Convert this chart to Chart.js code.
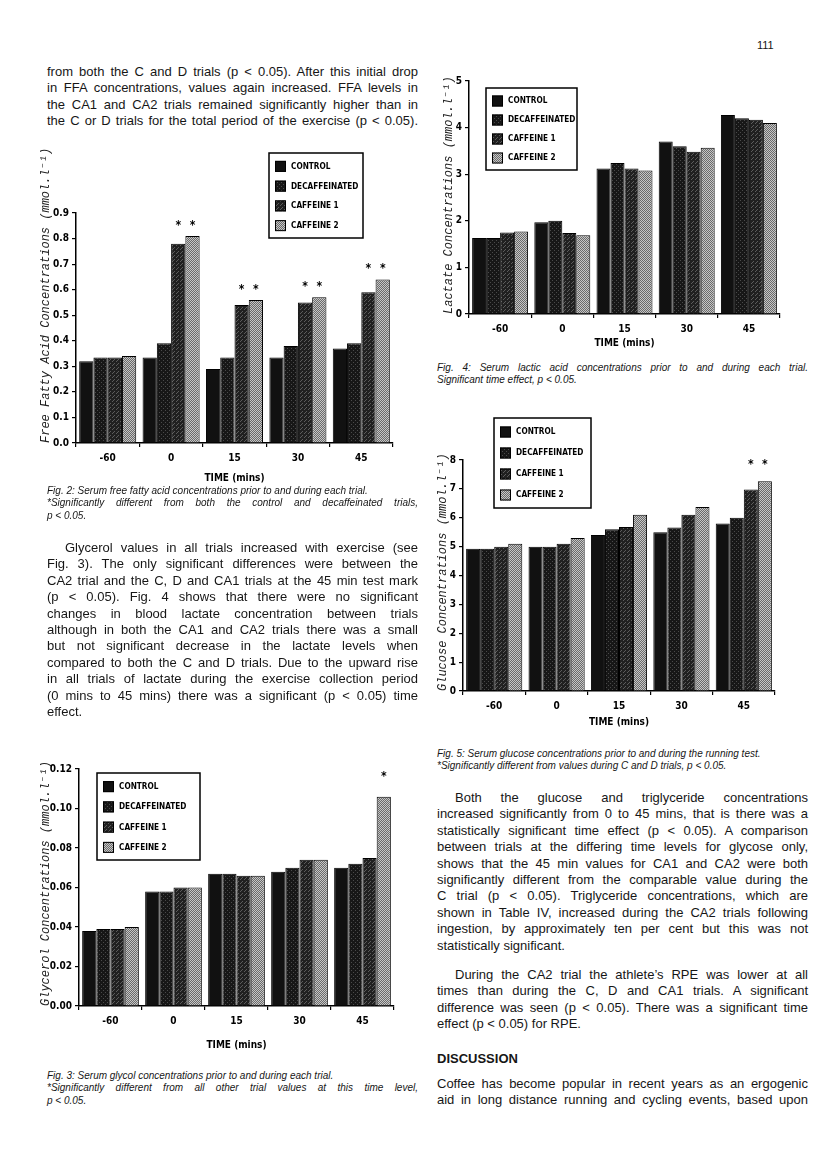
<!DOCTYPE html>
<html>
<head>
<meta charset="utf-8">
<script src="https://cdn.jsdelivr.net/npm/chart.js@4.4.1/dist/chart.umd.min.js"></script>
<style>
body { margin: 0; background: #fff; }
#page { position: relative; width: 816px; height: 1171px; overflow: hidden; font-family: "Liberation Sans", Arial, sans-serif; color: #161616; }
.txt { position: absolute; width: 371px; font-size: 13px; line-height: 16.4px; }
.txt div { white-space: nowrap; text-align: justify; text-align-last: justify; }
.txt div.end { text-align-last: left; }
.txt div.ind { text-indent: 18px; }
.cap { position: absolute; width: 371px; font-size: 10px; line-height: 12.4px; font-style: italic; }
.cap div { white-space: nowrap; }
.cap div.j { text-align: justify; text-align-last: justify; }
.plot { position: absolute; }
</style>
</head>
<body>
<div id="page">
  <div style="position:absolute;left:757px;top:39px;font-size:11px;">111</div>

  <div class="txt" style="left:47px;top:64px;">
    <div>from both the C and D trials (p &lt; 0.05). After this initial drop</div>
    <div>in FFA concentrations, values again increased. FFA levels in</div>
    <div>the CA1 and CA2 trials remained significantly higher than in</div>
    <div>the C or D trials for the total period of the exercise (p &lt; 0.05).</div>
  </div>

  <div class="plot" style="left:30px;top:135px;"><canvas id="ffaChart" width="385" height="355"></canvas></div>
  <div class="cap" style="left:47px;top:485px;">
    <div>Fig. 2: Serum free fatty acid concentrations prior to and during each trial.</div>
    <div class="j">*Significantly different from both the control and decaffeinated trials,</div>
    <div>p &lt; 0.05.</div>
  </div>

  <div class="txt" style="left:47px;top:540px;">
    <div class="ind">Glycerol values in all trials increased with exercise (see</div>
    <div>Fig. 3). The only significant differences were between the</div>
    <div>CA2 trial and the C, D and CA1 trials at the 45 min test mark</div>
    <div>(p &lt; 0.05). Fig. 4 shows that there were no significant</div>
    <div>changes in blood lactate concentration between trials</div>
    <div>although in both the CA1 and CA2 trials there was a small</div>
    <div>but not significant decrease in the lactate levels when</div>
    <div>compared to both the C and D trials. Due to the upward rise</div>
    <div>in all trials of lactate during the exercise collection period</div>
    <div>(0 mins to 45 mins) there was a significant (p &lt; 0.05) time</div>
    <div class="end">effect.</div>
  </div>

  <div class="plot" style="left:30px;top:745px;"><canvas id="glycerolChart" width="385" height="310"></canvas></div>
  <div class="cap" style="left:47px;top:1070px;">
    <div>Fig. 3: Serum glycol concentrations prior to and during each trial.</div>
    <div class="j">*Significantly different from all other trial values at this time level,</div>
    <div>p &lt; 0.05.</div>
  </div>

  <div class="plot" style="left:425px;top:65px;"><canvas id="lactateChart" width="380" height="290"></canvas></div>
  <div class="cap" style="left:437px;top:362px;">
    <div class="j">Fig. 4: Serum lactic acid concentrations prior to and during each trial.</div>
    <div>Significant time effect, p &lt; 0.05.</div>
  </div>

  <div class="plot" style="left:425px;top:410px;"><canvas id="glucoseChart" width="380" height="320"></canvas></div>
  <div class="cap" style="left:437px;top:748px;">
    <div>Fig. 5: Serum glucose concentrations prior to and during the running test.</div>
    <div>*Significantly different from values during C and D trials, p &lt; 0.05.</div>
  </div>

  <div class="txt" style="left:437px;top:790px;">
    <div class="ind">Both the glucose and triglyceride concentrations</div>
    <div>increased significantly from 0 to 45 mins, that is there was a</div>
    <div>statistically significant time effect (p &lt; 0.05). A comparison</div>
    <div>between trials at the differing time levels for glycose only,</div>
    <div>shows that the 45 min values for CA1 and CA2 were both</div>
    <div>significantly different from the comparable value during the</div>
    <div>C trial (p &lt; 0.05). Triglyceride concentrations, which are</div>
    <div>shown in Table IV, increased during the CA2 trials following</div>
    <div>ingestion, by approximately ten per cent but this was not</div>
    <div class="end">statistically significant.</div>
  </div>

  <div class="txt" style="left:437px;top:967px;">
    <div class="ind">During the CA2 trial the athlete’s RPE was lower at all</div>
    <div>times than during the C, D and CA1 trials. A significant</div>
    <div>difference was seen (p &lt; 0.05). There was a significant time</div>
    <div class="end">effect (p &lt; 0.05) for RPE.</div>
  </div>

  <div style="position:absolute;left:437px;top:1051px;font-size:13px;font-weight:bold;">DISCUSSION</div>

  <div class="txt" style="left:437px;top:1076px;">
    <div>Coffee has become popular in recent years as an ergogenic</div>
    <div>aid in long distance running and cycling events, based upon</div>
  </div>
</div>

<script>
const timeLabels = ['-60', '0', '15', '30', '45'];
const trialNames = ['CONTROL', 'DECAFFEINATED', 'CAFFEINE 1', 'CAFFEINE 2'];

// Fig 2: free fatty acids
const ffaControl = [0.32, 0.335, 0.29, 0.335, 0.37];
const ffaDecaf = [0.335, 0.39, 0.335, 0.38, 0.39];
const ffaCaf1 = [0.335, 0.78, 0.54, 0.55, 0.59];
const ffaCaf2 = [0.34, 0.81, 0.56, 0.57, 0.64];
const ffaSigCaf1 = [0, 1, 1, 1, 1];
const ffaSigCaf2 = [0, 1, 1, 1, 1];
const ffaTicks = [0, 0.1, 0.2, 0.3, 0.4, 0.5, 0.6, 0.7, 0.8, 0.9];

// Fig 3: glycerol
const glyControl = [0.038, 0.058, 0.067, 0.068, 0.070];
const glyDecaf = [0.039, 0.058, 0.067, 0.070, 0.072];
const glyCaf1 = [0.039, 0.060, 0.066, 0.074, 0.075];
const glyCaf2 = [0.040, 0.060, 0.066, 0.074, 0.106];
const glySigCaf2 = [0, 0, 0, 0, 1];
const glyTicks = [0, 0.02, 0.04, 0.06, 0.08, 0.10, 0.12];

// Fig 4: lactate
const lacControl = [1.63, 1.97, 3.12, 3.70, 4.27];
const lacDecaf = [1.63, 2.00, 3.24, 3.60, 4.20];
const lacCaf1 = [1.75, 1.74, 3.12, 3.48, 4.17];
const lacCaf2 = [1.77, 1.69, 3.08, 3.57, 4.10];
const lacTicks = [0, 1, 2, 3, 4, 5];

// Fig 5: glucose
const gluControl = [4.93, 5.0, 5.4, 5.5, 5.8];
const gluDecaf = [4.93, 5.0, 5.6, 5.66, 6.0];
const gluCaf1 = [5.0, 5.1, 5.68, 6.1, 6.98];
const gluCaf2 = [5.1, 5.3, 6.1, 6.37, 7.26];
const gluSigCaf1 = [0, 0, 0, 0, 1];
const gluSigCaf2 = [0, 0, 0, 0, 1];
const gluTicks = [0, 1, 2, 3, 4, 5, 6, 7, 8];

const narrow = "'Liberation Sans Narrow', 'DejaVu Sans Condensed', sans-serif";
const mono = "'Liberation Mono', 'DejaVu Sans Mono', monospace";

function makePattern(bg, fg, cells) {
    const c = document.createElement('canvas');
    c.width = 4;
    c.height = 4;
    const g = c.getContext('2d');
    g.fillStyle = bg;
    g.fillRect(0, 0, 4, 4);
    g.fillStyle = fg;
    cells.forEach(([x, y]) => g.fillRect(x, y, 1, 1));
    return g.createPattern(c, 'repeat');
}

const fillControl = '#111111';
const fillDecaf = makePattern('#171717', '#4a4a4a', [[1, 1], [3, 3]]);
const fillCaf1 = makePattern('#202020', '#5c5c5c', [[0, 0], [2, 2], [3, 1]]);
const fillCaf2 = makePattern('#c6c6c6', '#6a6a6a', [[0, 0], [2, 0], [1, 1], [3, 1], [0, 2], [2, 2], [1, 3], [3, 3]]);
const trialFills = [fillControl, fillDecaf, fillCaf1, fillCaf2];

// legend box drawn inside the plot
const boxLegend = {
    id: 'boxLegend',
    afterDraw(chart, args, opts) {
        const ctx = chart.ctx;
        const { x, y, w, h } = opts;
        ctx.save();
        ctx.fillStyle = '#fff';
        ctx.fillRect(x, y, w, h);
        ctx.lineWidth = 1.5;
        ctx.strokeStyle = '#000';
        ctx.strokeRect(x, y, w, h);
        const rowH = (h - 6) / chart.data.datasets.length;
        ctx.font = 'bold 9.5px ' + narrow;
        ctx.textBaseline = 'middle';
        chart.data.datasets.forEach((ds, i) => {
            const cy = y + 3 + rowH * (i + 0.5);
            ctx.fillStyle = ds.backgroundColor;
            ctx.fillRect(x + 6, cy - 5, 11, 11);
            ctx.lineWidth = 1;
            ctx.strokeRect(x + 6.5, cy - 4.5, 10, 10);
            ctx.fillStyle = '#000';
            ctx.save();
            ctx.translate(x + 22, cy + 0.5);
            ctx.scale(0.86, 1);
            ctx.fillText(ds.label, 0, 0);
            ctx.restore();
        });
        ctx.restore();
    }
};

// significance asterisks above the marked bars
const sigStars = {
    id: 'sigStars',
    afterDatasetsDraw(chart, args, opts) {
        const ctx = chart.ctx;
        ctx.save();
        ctx.fillStyle = '#000';
        ctx.font = 'bold 12px ' + narrow;
        ctx.textAlign = 'center';
        ctx.textBaseline = 'alphabetic';
        chart.data.labels.forEach((lbl, i) => {
            const bars = [];
            chart.data.datasets.forEach((ds, d) => {
                if (ds.sig && ds.sig[i]) bars.push(chart.getDatasetMeta(d).data[i]);
            });
            if (!bars.length) return;
            const top = Math.min(...bars.map(b => b.y));
            bars.forEach(b => ctx.fillText('*', b.x, top - opts.gap + 7));
        });
        ctx.restore();
    }
};

function createTrialChart(canvasId, geo, series, sigs, yTicks, decimals, yTitle, legendBox, starGap) {
    const chart = document.getElementById(canvasId);
    const xHeight = geo.timeY + 6 - geo.plotB;
    new Chart(chart, {
        type: 'bar',
        data: {
            labels: timeLabels,
            datasets: series.map((values, i) => ({
                label: trialNames[i],
                data: values,
                sig: sigs[i],
                backgroundColor: trialFills[i],
                borderColor: '#000',
                borderWidth: 1,
                barPercentage: 1.0,
                categoryPercentage: 0.9
            }))
        },
        options: {
            responsive: false,
            animation: false,
            layout: {
                autoPadding: false,
                padding: {
                    left: 0,
                    top: geo.plotT - geo.top,
                    right: geo.left + geo.w - geo.plotR,
                    bottom: geo.top + geo.h - geo.plotB - xHeight
                }
            },
            scales: {
                x: {
                    offset: true,
                    afterFit: s => { s.height = xHeight; },
                    grid: { display: true, drawOnChartArea: false, offset: true, color: '#000', tickLength: 4, lineWidth: 1.2 },
                    border: { display: true, color: '#000', width: 1.5 },
                    ticks: { color: '#000', maxRotation: 0, padding: 5, font: { family: narrow, size: 10, weight: 'bold' } },
                    title: { display: true, text: 'TIME (mins)', color: '#000', padding: 0, font: { family: narrow, size: 10, weight: 'bold' } }
                },
                y: {
                    min: yTicks[0],
                    max: yTicks[yTicks.length - 1],
                    afterFit: s => { s.width = geo.plotL - geo.left; },
                    afterBuildTicks: s => { s.ticks = yTicks.map(v => ({ value: v })); },
                    grid: { display: true, drawOnChartArea: false, color: '#000', tickLength: 4, lineWidth: 1.2 },
                    border: { display: true, color: '#000', width: 1.5 },
                    ticks: { color: '#000', padding: 3, callback: v => Number(v).toFixed(decimals), font: { family: narrow, size: 10, weight: 'bold' } },
                    title: {
                        display: true,
                        text: yTitle,
                        align: 'start',
                        color: '#222',
                        padding: { top: geo.titleX - geo.left - 7.2, bottom: 0 },
                        font: { family: mono, size: 12, style: 'italic' }
                    }
                }
            },
            plugins: {
                legend: { display: false },
                tooltip: { enabled: false },
                boxLegend: {
                    x: legendBox.x - geo.left,
                    y: legendBox.y - geo.top,
                    w: legendBox.w,
                    h: legendBox.h
                },
                sigStars: { gap: starGap }
            }
        },
        plugins: [boxLegend, sigStars]
    });
}

const none = [0, 0, 0, 0, 0];

createTrialChart('ffaChart',
    { left: 30, top: 135, w: 385, h: 355, plotL: 76, plotT: 213, plotR: 393, plotB: 443, timeY: 478, titleX: 46 },
    [ffaControl, ffaDecaf, ffaCaf1, ffaCaf2], [none, none, ffaSigCaf1, ffaSigCaf2],
    ffaTicks, 1, 'Free Fatty Acid Concentrations (mmol.l\u207B\u00B9)',
    { x: 269, y: 153, w: 94, h: 85 }, 14);

createTrialChart('glycerolChart',
    { left: 30, top: 745, w: 385, h: 310, plotL: 79, plotT: 769, plotR: 394, plotB: 1006, timeY: 1045, titleX: 46 },
    [glyControl, glyDecaf, glyCaf1, glyCaf2], [none, none, none, glySigCaf2],
    glyTicks, 2, 'Glycerol Concentrations (mmol.l\u207B\u00B9)',
    { x: 97, y: 773, w: 103, h: 87 }, 24);

createTrialChart('lactateChart',
    { left: 425, top: 65, w: 380, h: 290, plotL: 469, plotT: 81, plotR: 780, plotB: 314, timeY: 343, titleX: 449 },
    [lacControl, lacDecaf, lacCaf1, lacCaf2], [none, none, none, none],
    lacTicks, 0, 'Lactate Concentrations (mmol.l\u207B\u00B9)',
    { x: 486, y: 88, w: 91, h: 82 }, 20);

createTrialChart('glucoseChart',
    { left: 425, top: 410, w: 380, h: 320, plotL: 463, plotT: 460, plotR: 775, plotB: 691, timeY: 722, titleX: 443 },
    [gluControl, gluDecaf, gluCaf1, gluCaf2], [none, none, gluSigCaf1, gluSigCaf2],
    gluTicks, 0, 'Glucose Concentrations (mmol.l\u207B\u00B9)',
    { x: 494, y: 418, w: 97, h: 90 }, 20);
</script>
</body>
</html>
